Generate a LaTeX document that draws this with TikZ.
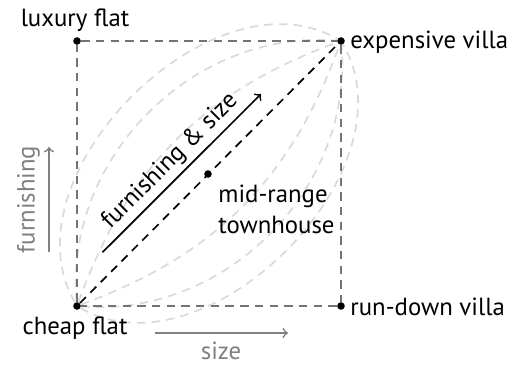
\documentclass[tikz,border=0pt]{standalone}
\usepackage{fontspec}
\setmainfont{PT Sans}
\begin{document}
\begin{tikzpicture}[x=0.476pt,y=-0.476pt,
  font=\fontsize{11.8}{14}\selectfont,
  dot/.style={circle,fill=black,inner sep=0pt,minimum size=3.6pt},
  frame/.style={black!55,line width=0.8pt,dash pattern=on 4pt off 3pt},
  curve/.style={black!15,line width=0.8pt,dash pattern=on 4pt off 3pt},
  diag/.style={black,line width=0.8pt,dash pattern=on 4pt off 3pt},
  axis/.style={black!50,line width=0.8pt,->},
  lbl/.style={inner sep=0pt},
  glbl/.style={inner sep=0pt,text=black!50}]
\useasboundingbox (0,0) rectangle (509,367);
\node[dot] (cheap) at (77,306) {};
\node[dot] (lux) at (77,41) {};
\node[dot] (villa) at (341,41) {};
\node[dot] (rundown) at (341,306) {};
\node[dot] (mid) at (208,174) {};
% light curves
\foreach \b in {25,50,75}{
  \draw[curve] (cheap) to[bend left=\b] (villa);
  \draw[curve] (cheap) to[bend right=\b] (villa);
}
% frame
\draw[frame] (cheap) -- (lux) -- (villa) -- (rundown) -- (cheap);
\draw[diag] (cheap) -- (villa);
% furnishing & size arrow
\coordinate (fs1) at (102.5,252.3);
\coordinate (fs2) at (261,94);
\draw[line width=0.8pt,->] (fs1) -- (fs2) node[midway,sloped,above=2pt,lbl] (fstext) {furnishing \& size};
% axes
\coordinate (ay1) at (49,252);
\coordinate (ay2) at (49,147);
\draw[axis] (ay1) -- (ay2) node[midway,sloped,above=4pt,glbl] (furntext) {furnishing};
\coordinate (ax1) at (155,333);
\coordinate (ax2) at (288,333);
\draw[axis] (ax1) -- (ax2);
\node[glbl,anchor=base] (sizetext) at (221,359) {size};
% labels
\node[lbl,anchor=base] (tlux) at (75,26) {luxury flat};
\node[lbl,anchor=base west] (tvilla) at (350,48) {expensive villa};
\node[lbl,anchor=base west] (trundown) at (350,315) {run-down villa};
\node[lbl,anchor=base] (tcheap) at (75,334) {cheap flat};
\node[lbl,anchor=base west] (tmid1) at (218,202) {mid-range};
\node[lbl,anchor=base west] (tmid2) at (218,233) {townhouse};
\end{tikzpicture}
\end{document}
